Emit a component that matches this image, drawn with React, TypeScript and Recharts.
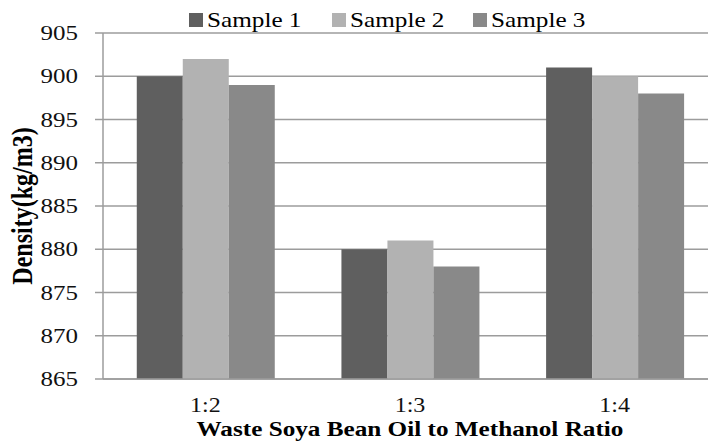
import React from "react";
import { BarChart, Bar, XAxis, YAxis, CartesianGrid, Legend } from "recharts";

const ratios = ["1:2", "1:3", "1:4"];
const sample1 = [900, 880, 901];
const sample2 = [902, 881, 900];
const sample3 = [899, 878, 898];
const yTicks = [865, 870, 875, 880, 885, 890, 895, 900, 905];

const data = ratios.map((r, i) => ({
  ratio: r,
  s1: sample1[i],
  s2: sample2[i],
  s3: sample3[i],
}));

const FONT = '"Liberation Serif", "Times New Roman", serif';
const GRID = "#9c9c9c";

const YTick = (props: any) => {
  const { x, y, payload } = props;
  return (
    <g transform={`translate(${x},${y})`}>
      <text
        transform="scale(1.25,1)"
        textAnchor="end"
        dy="0.35em"
        fontFamily={FONT}
        fontSize={20}
        fill="#111"
      >
        {payload.value}
      </text>
    </g>
  );
};

const XTick = (props: any) => {
  const { x, y, payload } = props;
  return (
    <g transform={`translate(${x},${y})`}>
      <text
        transform="scale(1.2,1)"
        textAnchor="middle"
        dy={33}
        fontFamily={FONT}
        fontSize={20}
        fill="#111"
      >
        {payload.value}
      </text>
    </g>
  );
};

const XTitle = (props: any) => {
  const { viewBox } = props;
  const cx = viewBox.x + viewBox.width / 2;
  return (
    <g transform={`translate(${cx},${viewBox.y + 57})`}>
      <text
        transform="scale(1.2,1)"
        textAnchor="middle"
        fontFamily={FONT}
        fontWeight="bold"
        fontSize={21}
        fill="#000"
      >
        Waste Soya Bean Oil to Methanol Ratio
      </text>
    </g>
  );
};

const YTitle = (props: any) => {
  const { viewBox } = props;
  const cy = viewBox.y + viewBox.height / 2;
  return (
    <g transform={`translate(32,${cy}) rotate(-90) scale(1,1.2)`}>
      <text
        textAnchor="middle"
        fontFamily={FONT}
        fontWeight="bold"
        fontSize={24}
        fill="#000"
      >
        Density(kg/m3)
      </text>
    </g>
  );
};

const legendX = [189, 332, 473];

const LegendContent = (props: any) => {
  const { payload } = props;
  return (
    <svg width={708} height={32} style={{ display: "block" }}>
      {(payload || []).map((p: any, i: number) => (
        <g key={p.value} transform={`translate(${legendX[i]},0)`}>
          <rect x={0} y={13} width={14} height={14} fill={p.color} />
          <g transform="translate(18,27)">
            <text transform="scale(1.2,1)" fontFamily={FONT} fontSize={21} fill="#000">
              {p.value}
            </text>
          </g>
        </g>
      ))}
    </svg>
  );
};

export default function App() {
  return (
    <div
      style={{
        position: "absolute",
        left: 0,
        top: 0,
        width: 708,
        height: 444,
        overflow: "hidden",
        background: "#fff",
      }}
    >
      <BarChart
        width={717}
        height={444}
        data={data}
        margin={{ top: 33, right: 0, bottom: 0, left: 0 }}
        barCategoryGap="16.5%"
        barGap={0}
      >
        <CartesianGrid horizontal vertical={false} stroke={GRID} strokeWidth={1.5} />
        <XAxis
          dataKey="ratio"
          height={65}
          axisLine={{ stroke: GRID, strokeWidth: 1.5 }}
          tickLine={false}
          tickSize={0}
          tickMargin={0}
          tick={<XTick />}
          label={<XTitle />}
          interval={0}
        />
        <YAxis
          width={103}
          domain={[865, 905]}
          ticks={yTicks}
          allowDataOverflow
          axisLine={{ stroke: GRID, strokeWidth: 1.5 }}
          tickLine={{ stroke: GRID, strokeWidth: 1.5 }}
          tickSize={8}
          tickMargin={17}
          tick={<YTick />}
          label={<YTitle />}
        />
        <Legend
          layout="horizontal"
          verticalAlign="middle"
          align="center"
          wrapperStyle={{ top: 0, left: 0, width: 708 }}
          content={<LegendContent />}
        />
        <Bar dataKey="s1" name="Sample 1" fill="#5f5f5f" isAnimationActive={false} />
        <Bar dataKey="s2" name="Sample 2" fill="#b2b2b2" isAnimationActive={false} />
        <Bar dataKey="s3" name="Sample 3" fill="#898989" isAnimationActive={false} />
      </BarChart>
    </div>
  );
}
